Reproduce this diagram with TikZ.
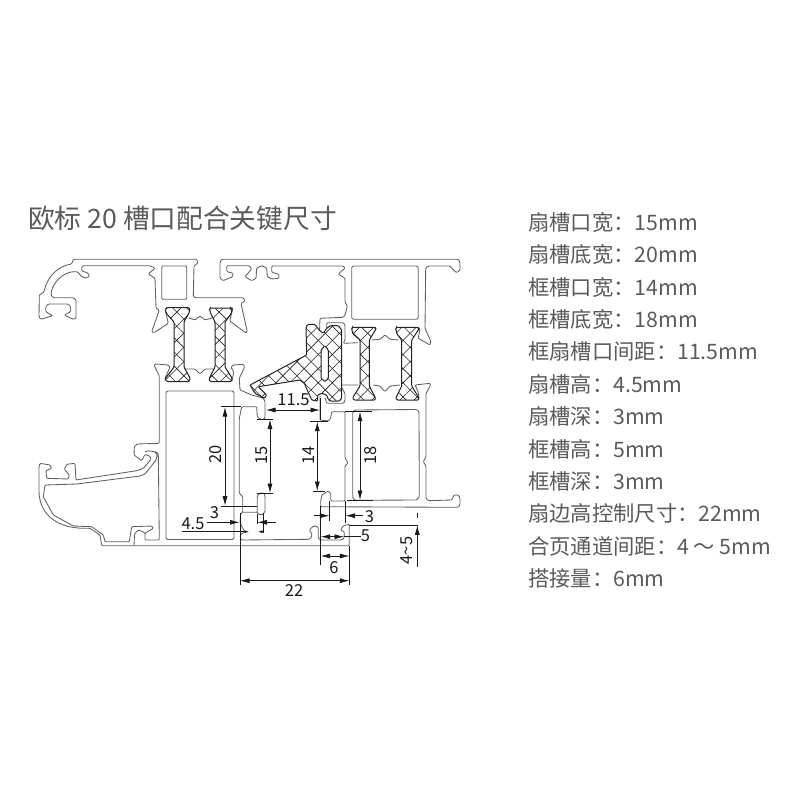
\documentclass[tikz,border=0pt]{standalone}
\usepackage{fontspec}
\setmainfont{Noto Sans CJK SC}
\usetikzlibrary{arrows.meta,patterns.meta,positioning}
\definecolor{profileColor}{RGB}{95,95,95}
\definecolor{stripColor}{RGB}{35,35,35}
\definecolor{dimColor}{RGB}{25,25,25}
\definecolor{textColor}{RGB}{90,90,90}
\tikzset{profile/.style={draw=profileColor, line width=.85pt, rounded corners=1pt, line join=round}}
\tikzset{strip/.style={draw=stripColor, line width=1pt, rounded corners=1pt, fill=white,
  preaction={fill=white},
  postaction={pattern={Lines[angle=45,distance=10pt,line width=.6pt]}, pattern color=stripColor},
  postaction={pattern={Lines[angle=-45,distance=10pt,line width=.6pt]}, pattern color=stripColor}}}
\tikzset{dim/.style={draw=dimColor, line width=.7pt}}
\tikzset{dimarrow/.style={dim, -{Latex[length=9.5pt,width=5pt]}}}
\tikzset{dimboth/.style={dim, {Latex[length=9.5pt,width=5pt]}-{Latex[length=9.5pt,width=5pt]}}}
\tikzset{dimsmall/.style={dim, -{Latex[length=4.5pt,width=3pt]}}}
\tikzset{dimlabel/.style={text=dimColor, inner sep=0pt, font=\fontsize{16.5}{18}\selectfont}}
\tikzset{spec/.style={anchor=north west, text=textColor, inner sep=0pt, text height=16pt, text depth=4pt, font=\fontsize{21.3}{24}\selectfont}}

\begin{document}
\begin{tikzpicture}[x=1pt,y=-1pt,node distance=12pt]
\useasboundingbox (0,0) rectangle (800,800);

% Title
\node (Title) [anchor=west, inner sep=0pt, text=textColor, font=\fontsize{26.7}{30}\selectfont] at (28,218) {欧标 20 槽口配合关键尺寸};

% Specification list
\node (SashOpening) [spec] at (528,214) {扇槽口宽：15mm};
\node (SashBottom) [below=of SashOpening.south west, spec] {扇槽底宽：20mm};
\node (FrameOpening) [below=of SashBottom.south west, spec] {框槽口宽：14mm};
\node (FrameBottom) [below=of FrameOpening.south west, spec] {框槽底宽：18mm};
\node (OpeningGap) [below=of FrameBottom.south west, spec] {框扇槽口间距：11.5mm};
\node (SashHeight) [below=of OpeningGap.south west, spec] {扇槽高：4.5mm};
\node (SashDepth) [below=of SashHeight.south west, spec] {扇槽深：3mm};
\node (FrameHeight) [below=of SashDepth.south west, spec] {框槽高：5mm};
\node (FrameDepth) [below=of FrameHeight.south west, spec] {框槽深：3mm};
\node (SashEdge) [below=of FrameDepth.south west, spec] {扇边高控制尺寸：22mm};
\node (HingeGap) [below=of SashEdge.south west, spec] {合页通道间距：4 ～ 5mm};
\node (Overlap) [below=of HingeGap.south west, spec] {搭接量：6mm};

% Sash, upper profile
\draw [profile] (167.3,307.3) -- (165,309.3) -- (168.3,323.3) -- (154,332.7) -- (151.7,331.7) -- (159.3,310) -- (156,308.3) -- (155,278.3) -- (148.3,274) -- (155,268.3) -- (150,265.7) -- (83.3,265.7) -- (81.7,266.7) -- (81.7,270.7) -- (88.3,273.3) -- (89.3,276.7) -- (85,278.3) -- (80,275) -- (78,272) -- (75,271.7) .. controls (63.3,271.7) and (51.7,283.3) .. (51,295) -- (53.3,297.7) -- (73.3,297.7) -- (76,300) -- (76,318.3) -- (73.3,319.3) -- (64.3,315) -- (70.7,311.7) -- (70.7,307.3) -- (68.3,304) -- (48.3,304) -- (45.7,306.7) -- (45.7,311.7) -- (52.7,315.7) -- (40.7,319.3) -- (39,316.7) -- (39.3,295) -- (44,292) .. controls (47,277) and (58,266) .. (71.7,264) -- (73.3,259.3) -- (196.7,259.3) -- (198,263) -- (194,266) -- (193.3,296.7) -- (195,297.7) -- (243.3,297.7) -- (245,301) -- (241,303.5) -- (247.3,331.7) -- (246,333) -- (229.7,321) -- (233,308) -- (230,307);
\draw [profile] (161.7,266) rectangle (186.7,299.3);
\draw [profile] (189,318) -- (195,320) -- (200,316) -- (205,320) -- (212,318);

% Sash, lower profile
\draw [profile] (165,380) -- (165,378.3) -- (170,367.3) -- (168.3,365) -- (156,364) -- (154,365) -- (159.3,376) -- (159.3,443.3) -- (137.3,444) -- (134.3,446.7) -- (134,455) -- (141.7,460.7) -- (145,454.3) -- (150.7,456.7) -- (150,460.7) -- (143.3,468.3) -- (136.7,470.7) -- (76,480) -- (75,463.3) -- (66.7,464.3) -- (64.3,469.3) -- (69.3,475) -- (68.3,479) -- (46.7,478.3) -- (46,470.7) -- (51.7,468.3) -- (50,465) -- (40,463.3) -- (39,466.7) -- (39,490) .. controls (39,510) and (52,528) .. (85,528.3) -- (90,528.3) -- (100,535) -- (101.7,545.7) -- (349.3,545.7) -- (349.3,524.3) -- (343.3,525.7) -- (340.7,530) -- (344.3,531.7) -- (344,538.3) -- (341.7,540) -- (320.7,540) -- (318.3,538.3) -- (318.3,527.3) -- (315,525.7) -- (311.7,527.3) -- (309.3,530.7) -- (311.7,533.3) -- (311.7,536.7) -- (309.3,539.3) -- (241.7,540) -- (240,538.3) -- (240.7,534.3) -- (245,531.7) -- (241.7,526.7) -- (240,521.7) -- (240.7,513.3) -- (242.7,512.3) -- (242.7,496.7) -- (239.3,493.3) -- (239.3,418.3) -- (241.7,406.7) -- (256.7,406.7) -- (257.3,416.7) -- (260,419.3) -- (264,419.3) -- (265,417.7) -- (265,401) -- (263,398) -- (251.7,395) -- (240,390) -- (239.3,378.3) -- (244.7,366.7) -- (243.3,364.3) -- (233.3,365) -- (231,367) -- (233.7,372) -- (232,381);
\draw [profile] (145,452) -- (146.7,450.7) -- (155,451.7) -- (157.3,455) -- (156,460) -- (145,474) -- (140,476) -- (76.7,484) -- (45,485) -- (43.3,496.7) -- (53.3,515) -- (73.3,526) -- (91.7,526.7) -- (103.3,535) -- (105,541.7) -- (129.3,541.7) -- (131.7,526.7) -- (151.7,526) -- (153.3,528.3) -- (145,533.3) -- (145,540) -- (159.3,540) -- (158.3,453.3) -- (155,451.7);
\draw [profile] (134,545.7) -- (134.5,534) -- (138,530) -- (143,531.7) -- (145,533.3);
\draw [profile, rounded corners=2pt] (166,391) rectangle (234,539.5);
\draw [profile] (185,369) -- (195,369) -- (200,374) -- (205,369) -- (215,369);
\draw [profile] (242.7,512.3) -- (257.3,512.3) -- (257.3,496) -- (260,493) -- (264,493) -- (265,496) -- (265,512) -- (261.7,515) -- (258.5,514) -- (257.3,512.3);

% Frame profile
\draw [profile] (320,396) -- (320,420) -- (328.3,421) -- (330.7,418.3) -- (331.7,411.7) -- (345,411.7) -- (345,458) -- (348,463) -- (345,466) -- (345,501) -- (330.7,501) -- (330.7,493.3) -- (328.3,491) -- (321.7,495) -- (320.7,501.7) -- (320.7,506.7) -- (458.3,507.3) -- (460,505) -- (460,498.3) -- (458.3,495) -- (454,495) -- (451.7,500) -- (428.3,500.7) -- (426,498.3) -- (426,466) -- (423.3,461.7) -- (426,456.7) -- (426,393.3) -- (430.7,385) -- (430,383.3) -- (415,385) -- (418.3,392) -- (419,398);
\draw [profile] (416,328) -- (420,328.3) -- (418.3,338.3) -- (430,345) -- (431,341.7) -- (425,328.3) -- (425.7,268) -- (428.3,266) -- (450,266) -- (453.3,270) -- (456.7,272.7) -- (460,270) -- (460,262) -- (458.3,259.3) -- (221.7,259.3) -- (220,262) -- (220,278) -- (223,280.7) -- (232.7,276.7) -- (232.7,273) -- (226.7,271.7) -- (226.7,265.7) -- (249.3,265.7) -- (251.7,269) -- (245,276.7) -- (251.7,280.7) -- (256,278.3) -- (256.7,268) -- (261.7,265.7) -- (266.7,268) -- (267.3,276.7) -- (271.7,279) -- (279,278.3) -- (279,274.3) -- (271.7,272.3) -- (271.7,266) -- (343.3,266) -- (345,268.3) -- (338.3,274) -- (345,278.3) -- (345,301.7) -- (347.3,306.7) -- (345,315) -- (343.3,317.3) -- (320,318.3) -- (319.5,332);
\draw [profile] (326.7,328) -- (326.7,322.7) -- (343.3,322.7) -- (345,325) -- (345,340) -- (343.3,343.3) -- (358,342.7);
\draw [profile] (358.3,385) -- (340,385) -- (345,393.3) -- (345,401) -- (343.3,403.3) -- (326.7,403.3) -- (325,398);
\draw [profile, rounded corners=2pt] (351.7,266) rectangle (418.3,319.3);
\draw [profile] (371.7,340) -- (380,339.3) -- (385,335) -- (390,339.3) -- (398.3,340);
\draw [profile] (373.3,385) -- (380,386) -- (385,391.7) -- (390,386) -- (400,385);
\draw [profile] (352.7,498) -- (352.7,412) -- (355,410) -- (416.7,409.5) -- (419,411.7) -- (419.3,496.7) -- (416.7,500) -- (355,500.3) -- cycle;

% Thermal break strips
\path [strip] (167,307.5) -- (188.5,307.5) -- (190,309) -- (189,313) -- (184,322) -- (184,367) -- (190,378) -- (189.5,381.5) -- (167,381.5) -- (165,379) -- (174,367) -- (174,322) -- (166,313) -- (165.5,309) -- cycle;
\path [strip] (210.5,308) -- (231.5,308) -- (232,310) -- (231,314) -- (225,322) -- (225,367) -- (232,378) -- (231.5,381.5) -- (210,381.5) -- (209,379) -- (215,367) -- (215,322) -- (211,314) -- (209.5,309.5) -- cycle;
\path [strip] (352.5,327.3) -- (375,327.3) -- (376,329) -- (369.3,340) -- (369.3,386) -- (375.5,398) -- (375,400) -- (354,400) -- (352.5,398) -- (360,386) -- (360,340) -- (353,334) -- (351.7,329) -- cycle;
\path [strip] (396.5,327.3) -- (418,327.3) -- (419,329) -- (411.7,340) -- (411.7,386) -- (419,398) -- (418.5,400) -- (397,400) -- (395.7,398) -- (401.7,386) -- (401.7,340) -- (397,334) -- (395.7,329) -- cycle;

% Gasket
\path [strip, even odd rule] (250,385) -- (306.7,355) -- (306,326.7) -- (308.3,324.3) -- (315,324.3) -- (319,330) -- (323.3,333.3) -- (326.7,328.3) -- (330,325.7) -- (338.3,325.7) -- (341.7,330) -- (341.7,398.3) -- (339.3,401) -- (330,401) -- (327.7,398.3) -- (326.7,395) -- (321.7,393.3) -- (317.7,395) -- (317.7,401) -- (311.7,400) -- (304.3,383.3) -- (300,380) -- (258.3,386.7) -- (266.7,395) -- (264.3,398.3) -- (255,393.3) -- cycle
  (321,350) -- (325,345.7) -- (328.3,350) -- (328.3,378.3) -- (325,381.7) -- (321,378.3) -- cycle;

% Dimension lines
\draw [dim] (220.7,406.7) -- (241,406.7);
\draw [dim] (220.7,506) -- (257,506);
\draw [dimboth] (225,407) -- (225,505.7);
\node (DimTwenty) [dimlabel, rotate=90] at (215.5,454) {20};

\draw [dim] (257.3,419.3) -- (273,419.3);
\draw [dim] (257,493.3) -- (273,493.3);
\draw [dimboth] (270,419.5) -- (270,493);
\node (DimFifteen) [dimlabel, rotate=90] at (261.5,455) {15};

\draw [dim] (310,421.7) -- (328,421.7);
\draw [dim] (313,491) -- (325,491);
\draw [dimboth] (317.3,421.7) -- (317.3,491);
\node (DimFourteen) [dimlabel, rotate=90] at (308.5,455) {14};

\draw [dim] (345,411.5) -- (372,411.5);
\draw [dim] (346.7,500) -- (373,500);
\draw [dimboth] (360,411.7) -- (360,500);
\node (DimEighteen) [dimlabel, rotate=90] at (371,455) {18};

\draw [dim] (320,398) -- (320,420);
\draw [dimboth] (266,410) -- (320,410);
\node (DimGap) [dimlabel] at (293.5,399.5) {11.5};

\draw [dim] (257.3,514) -- (257.3,524);
\draw [dim] (263.5,513) -- (263.5,533);
\draw [dim] (240,513) -- (240,585);
\node (DimSashDepth) [dimlabel] at (214.5,513) {3};
\draw [dimarrow] (207.3,522.3) -- (239.5,522.3);
\draw [dimarrow] (276,522.3) -- (257.5,522.3);
\node (DimSashHeight) [dimlabel] at (193,523.5) {4.5};
\draw [dimsmall] (181.7,531.7) -- (249,531.7);
\draw [dimsmall] (264,531.7) -- (258,531.7);

\draw [dim] (349.3,546) -- (349.3,585);
\draw [dimboth] (240,580.7) -- (349.3,580.7);
\node (DimEdge) [dimlabel] at (294,590.5) {22};

\draw [dim] (320.7,506) -- (320.7,565);
\draw [dimboth] (320.7,556) -- (349.3,556);
\node (DimOverlap) [dimlabel] at (334,568) {6};

\draw [dimboth] (320.7,536.7) -- (344,536.7);
\draw [dim] (344,536.7) -- (361,536.7);
\node (DimFrameHeight) [dimlabel] at (365.5,535.5) {5};

\draw [dim] (329.5,501) -- (329.5,521);
\draw [dim] (345,501) -- (345,523);
\draw [dimarrow] (314,515.7) -- (329.3,515.7);
\draw [dimarrow] (363.3,515.7) -- (345.5,515.7);
\node (DimFrameDepth) [dimlabel] at (369.5,516.5) {3};

\draw [dim] (349.3,525) -- (418,525);
\draw [dim] (417.3,513) -- (417.3,518);
\draw [dimarrow] (417.3,567) -- (417.3,525.3);
\node (DimChannel) [dimlabel, rotate=90] at (407,550.5) {4\textasciitilde 5};

\end{tikzpicture}
\end{document}
